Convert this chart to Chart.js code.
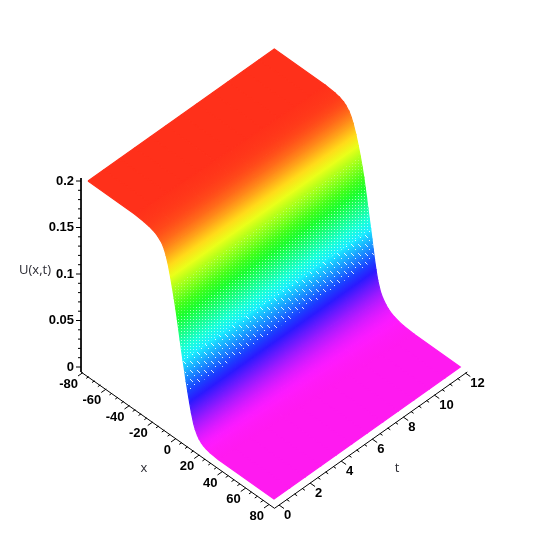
<!DOCTYPE html>
<html>
<head>
<meta charset="utf-8">
<script src="https://cdn.jsdelivr.net/npm/chart.js@4"></script>
<style>
html, body { margin: 0; padding: 0; background: #fff; }
canvas { display: block; }
</style>
</head>
<body>
<canvas id="surfaceChart" width="549" height="549"></canvas>
<script>
var uLevels = [0.2, 0.2, 0.199, 0.198, 0.196, 0.194, 0.19, 0.185, 0.18, 0.17, 0.16, 0.15, 0.14, 0.13, 0.12, 0.11, 0.1, 0.09, 0.08, 0.07, 0.06, 0.05, 0.04, 0.03, 0.02, 0.015, 0.01, 0.0075, 0.005, 0.0035, 0.002, 0.001, 0, 0];
var xAtT0 = [-80, -40, -32, -27.5, -22.5, -20, -16.6, -14.4, -12.9, -10.7, -9, -7.4, -5.9, -4.5, -3.2, -2, -0.8, 0.4, 1.7, 3.05, 4.4, 5.8, 7.3, 8.9, 10.8, 12.2, 14.1, 15.5, 17.4, 19.2, 21.8, 25, 32, 80];
var xAtT12 = [-80, -36, -28, -24, -20.5, -18.5, -15.8, -13.7, -12.2, -9.8, -7.8, -6, -4.4, -3, -1.8, -0.6, 0.5, 1.7, 2.9, 4, 5.1, 6.2, 7.5, 9, 11.3, 13.2, 16, 18, 20.8, 23.4, 27, 31, 40, 80];

var xTicks = [-80, -60, -40, -20, 0, 20, 40, 60, 80];
var tTicks = [0, 2, 4, 6, 8, 10, 12];
var uTicks = [0, 0.05, 0.1, 0.15, 0.2];
var uTickLabels = ['0', '0.05', '0.1', '0.15', '0.2'];

// view of the 3d box, in canvas pixels
function surfacePoint(x, t, u) {
    return {
        x: 88 + (x + 80) * 1.1625 + t * 15.525,
        y: 367 + (x + 80) * 0.825 - t * 11 - u * 930
    };
}
function xAxisPoint(x) { return { x: 83 + (x + 80) * 1.1625, y: 372.5 + (x + 80) * 0.825 }; }
function tAxisPoint(t) { return { x: 279 + t * 15.525, y: 505 - t * 11 }; }
function uAxisPoint(u) { return { x: 81, y: 367 - u * 930 }; }

function hueColor(u) {
    return 'hsl(' + (304 - 1490 * u) + ', 100%, 55%)';
}

// point on contour i, a fraction f of the way from the t=0 edge to the t=12 edge
function contourPoint(i, f) {
    return surfacePoint(xAtT0[i] + (xAtT12[i] - xAtT0[i]) * f, 12 * f, uLevels[i]);
}

// colour runs across the strip, so the gradient is normal to the cell's long edge
function cellGradient(chart, i, f0, f1) {
    var a = contourPoint(i, f0), b = contourPoint(i, f1);
    var d = contourPoint(i + 1, f0), e = contourPoint(i + 1, f1);
    var mx = (a.x + b.x) / 2, my = (a.y + b.y) / 2;
    var ex = (b.x + e.x - a.x - d.x) / 2, ey = (b.y + e.y - a.y - d.y) / 2;
    var len = Math.sqrt(ex * ex + ey * ey);
    var nx = -ey / len, ny = ex / len;
    var dist = ((d.x + e.x) / 2 - mx) * nx + ((d.y + e.y) / 2 - my) * ny;
    if (uLevels[i] === uLevels[i + 1]) {
        return hueColor(uLevels[i]);
    }
    var g = chart.ctx.createLinearGradient(mx, my, mx + nx * dist, my + ny * dist);
    g.addColorStop(0, hueColor(uLevels[i]));
    g.addColorStop(1, hueColor(uLevels[i + 1]));
    return g;
}

function dotPattern(chart, w, h, dots, alpha) {
    var tile = document.createElement('canvas');
    tile.width = w;
    tile.height = h;
    var tc = tile.getContext('2d');
    tc.fillStyle = 'rgba(255,255,255,' + alpha + ')';
    dots.forEach(function(p) { tc.fillRect(p[0], p[1], 1, 1); });
    return chart.ctx.createPattern(tile, 'repeat');
}

var datasets = [];
var cellsPerStrip = 12;

uLevels.slice(0, -1).forEach(function(u, i) {
    for (var j = 0; j < cellsPerStrip; j++) {
        (function(f0, f1) {
            var cell = [contourPoint(i, f0), contourPoint(i, f1), contourPoint(i + 1, f1), contourPoint(i + 1, f0)];
            cell.push(cell[0]);
            datasets.push({
                data: cell,
                showLine: true,
                fill: 'shape',
                order: 2,
                tension: 0,
                pointRadius: 0,
                borderWidth: 1.2,
                backgroundColor: function(ctx) { return cellGradient(ctx.chart, i, f0, f1); },
                borderColor: function(ctx) { return cellGradient(ctx.chart, i, f0, f1); }
            });
        })(j / cellsPerStrip, (j + 1) / cellsPerStrip);
    }
});

// the white pin holes Maple leaves on the steep part of the surface
function speckleBand(uTop, uBottom, w, h, dots, alpha) {
    var idx = [];
    uLevels.forEach(function(u, i) { if (u <= uTop && u >= uBottom) idx.push(i); });
    var pts = idx.map(function(i) { return contourPoint(i, 0); });
    idx.slice().reverse().forEach(function(i) { pts.push(contourPoint(i, 1)); });
    pts.push(pts[0]);
    datasets.push({
        data: pts,
        showLine: true,
        fill: 'shape',
        order: 1,
        tension: 0,
        pointRadius: 0,
        borderWidth: 0,
        borderColor: 'rgba(0,0,0,0)',
        backgroundColor: function(ctx) { return dotPattern(ctx.chart, w, h, dots, alpha); }
    });
}
speckleBand(0.15, 0.12, 3, 3, [[1, 1]], 0.3);
speckleBand(0.12, 0.08, 3, 3, [[1, 1]], 0.6);
speckleBand(0.08, 0.05, 7, 9, [[1, 1], [2, 2], [3, 3], [5, 6]], 0.85);

function tickLines(values, pointFn, dx, dy) {
    var pts = [];
    values.forEach(function(v) {
        var p = pointFn(v);
        pts.push(p, { x: p.x + dx, y: p.y + dy }, { x: NaN, y: NaN });
    });
    return pts;
}
function minorValues(ticks, count) {
    var out = [];
    for (var i = 0; i < ticks.length - 1; i++) {
        for (var k = 1; k <= count; k++) {
            out.push(ticks[i] + (ticks[i + 1] - ticks[i]) * k / (count + 1));
        }
    }
    return out;
}

var axisLines = [
    [{ x: 81, y: 178 }, { x: 81, y: 372 }],
    [{ x: 81, y: 372 }, { x: 274.5, y: 508.3 }],
    [{ x: 274.5, y: 508.3 }, { x: 467.3, y: 372 }],
    tickLines(uTicks, uAxisPoint, -5, 0),
    tickLines(minorValues(uTicks, 4), uAxisPoint, -3, 0),
    tickLines(xTicks, xAxisPoint, -5, 3.5),
    tickLines(minorValues(xTicks, 3), xAxisPoint, -2.6, 1.8),
    tickLines(tTicks, tAxisPoint, 5, 3.5),
    tickLines(minorValues(tTicks, 3), tAxisPoint, 2.6, 1.8)
];
axisLines.forEach(function(line) {
    datasets.push({
        data: line,
        showLine: true,
        order: 0,
        tension: 0,
        pointRadius: 0,
        borderWidth: 1,
        borderColor: '#000',
        spanGaps: false
    });
});

var axisText = {
    id: 'axisText',
    afterDraw: function(chart) {
        var c = chart.ctx;
        var sx = chart.scales.x, sy = chart.scales.y;
        function put(text, p, dx, dy) {
            c.fillText(text, sx.getPixelForValue(p.x) + dx, sy.getPixelForValue(p.y) + dy);
        }
        c.save();
        c.fillStyle = '#000';
        c.textBaseline = 'middle';
        c.font = 'bold 13px "Liberation Sans"';
        c.textAlign = 'right';
        uTicks.forEach(function(u, i) { put(uTickLabels[i], uAxisPoint(u), -7, 0); });
        xTicks.forEach(function(x) { put(String(x), xAxisPoint(x), -5, 11.5); });
        c.textAlign = 'left';
        tTicks.forEach(function(t) { put(String(t), tAxisPoint(t), 5, 10.7); });
        c.fillStyle = '#2b2b33';
        c.font = '13px "Open Sans"';
        c.textAlign = 'center';
        c.fillText('U(x,t)', 35, 270);
        c.fillText('x', 144, 468);
        c.fillText('t', 397, 468);
        c.restore();
    }
};

new Chart(document.getElementById('surfaceChart').getContext('2d'), {
    type: 'scatter',
    data: { datasets: datasets },
    options: {
        responsive: false,
        animation: false,
        layout: { padding: 0 },
        plugins: { legend: { display: false }, tooltip: { enabled: false } },
        scales: {
            x: { type: 'linear', display: false, min: 0, max: 549 },
            y: { type: 'linear', display: false, min: 0, max: 549, reverse: true }
        }
    },
    plugins: [axisText]
});
</script>
</body>
</html>
